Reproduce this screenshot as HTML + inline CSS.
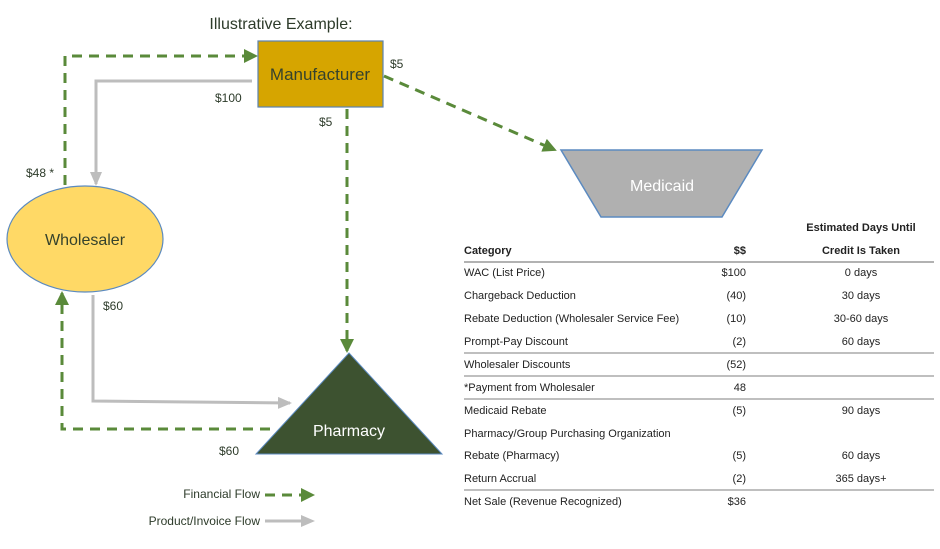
<!DOCTYPE html>
<html><head><meta charset="utf-8"><style>
html,body{margin:0;padding:0;background:#fff;}
svg{display:block;font-family:"Liberation Sans",sans-serif;}
</style></head><body>
<svg width="940" height="549" viewBox="0 0 940 549" xmlns="http://www.w3.org/2000/svg">
<defs>
<marker id="ga" markerWidth="14" markerHeight="14" refX="12" refY="7" orient="auto" markerUnits="userSpaceOnUse"><path d="M0,0 L14,7 L0,14 z" fill="#5a8a3a"/></marker>
<marker id="gr" markerWidth="14" markerHeight="14" refX="12" refY="7" orient="auto" markerUnits="userSpaceOnUse"><path d="M0,1 L14,7 L0,13 z" fill="#bdbdbd"/></marker>
</defs>
<text x="281" y="29" font-size="16" fill="#2d3b2a" text-anchor="middle">Illustrative Example:</text>
<polyline points="65,185 65,56 256,56" fill="none" stroke="#5a8a3a" stroke-width="3" stroke-dasharray="10,7" marker-end="url(#ga)"/>
<polyline points="252,81 96,81 96,184" fill="none" stroke="#bdbdbd" stroke-width="3" marker-end="url(#gr)"/>
<line x1="347" y1="109" x2="347" y2="351" stroke="#5a8a3a" stroke-width="3" stroke-dasharray="10,7" marker-end="url(#ga)"/>
<line x1="384" y1="76" x2="555" y2="150" stroke="#5a8a3a" stroke-width="3" stroke-dasharray="10,7" marker-end="url(#ga)"/>
<polyline points="93,295 93,401 290,403" fill="none" stroke="#bdbdbd" stroke-width="3" marker-end="url(#gr)"/>
<polyline points="270,429 62,429 62,293" fill="none" stroke="#5a8a3a" stroke-width="3" stroke-dasharray="10,7" marker-end="url(#ga)"/>
<rect x="258" y="41" width="125" height="66" fill="#d6a500" stroke="#5b82b0" stroke-width="1.2"/>
<text x="320" y="80" font-size="17" fill="#35422c" text-anchor="middle">Manufacturer</text>
<ellipse cx="85" cy="239" rx="78" ry="53" fill="#ffd966" stroke="#5b8ac0" stroke-width="1.2"/>
<text x="85" y="245" font-size="16" fill="#35422c" text-anchor="middle">Wholesaler</text>
<polygon points="561,150 762,150 722,217 601,217" fill="#b0b0b0" stroke="#5b8ac0" stroke-width="1.5"/>
<text x="662" y="191" font-size="16" fill="#fff" text-anchor="middle">Medicaid</text>
<polygon points="349,353 442,454 256,454" fill="#3d5230" stroke="#5b8ac0" stroke-width="1"/>
<text x="349" y="436" font-size="16" fill="#fff" text-anchor="middle">Pharmacy</text>
<g font-size="12" fill="#2d3b2a">
<text x="215" y="102">$100</text>
<text x="390" y="68">$5</text>
<text x="319" y="126">$5</text>
<text x="26" y="177">$48 *</text>
<text x="103" y="310">$60</text>
<text x="219" y="455">$60</text>
<text x="260" y="498" text-anchor="end">Financial Flow</text>
<text x="260" y="525" text-anchor="end">Product/Invoice Flow</text>
</g>
<line x1="265" y1="495" x2="302" y2="495" stroke="#5a8a3a" stroke-width="3" stroke-dasharray="10,7"/>
<path d="M301,488 L315,495 L301,502 z" fill="#5a8a3a"/>
<line x1="265" y1="521" x2="303" y2="521" stroke="#bdbdbd" stroke-width="3"/>
<path d="M301,515 L315,521 L301,527 z" fill="#bdbdbd"/>
<g font-size="11" fill="#222">
<g font-weight="bold">
<text x="861" y="231" text-anchor="middle">Estimated Days Until</text>
<text x="464" y="254">Category</text>
<text x="746" y="254" text-anchor="end">$$</text>
<text x="861" y="254" text-anchor="middle">Credit Is Taken</text>
</g>
<line x1="464" y1="262" x2="934" y2="262" stroke="#999" stroke-width="1.5"/>
<text x="464" y="276">WAC (List Price)</text><text x="746" y="276" text-anchor="end">$100</text><text x="861" y="276" text-anchor="middle">0 days</text>
<text x="464" y="299">Chargeback Deduction</text><text x="746" y="299" text-anchor="end">(40)</text><text x="861" y="299" text-anchor="middle">30 days</text>
<text x="464" y="322">Rebate Deduction (Wholesaler Service Fee)</text><text x="746" y="322" text-anchor="end">(10)</text><text x="861" y="322" text-anchor="middle">30-60 days</text>
<text x="464" y="345">Prompt-Pay Discount</text><text x="746" y="345" text-anchor="end">(2)</text><text x="861" y="345" text-anchor="middle">60 days</text>
<line x1="464" y1="353" x2="934" y2="353" stroke="#999" stroke-width="1.2"/>
<text x="464" y="368">Wholesaler Discounts</text><text x="746" y="368" text-anchor="end">(52)</text>
<line x1="464" y1="376" x2="934" y2="376" stroke="#999" stroke-width="1.2"/>
<text x="464" y="391">*Payment from Wholesaler</text><text x="746" y="391" text-anchor="end">48</text>
<line x1="464" y1="399" x2="934" y2="399" stroke="#999" stroke-width="1.2"/>
<text x="464" y="414">Medicaid Rebate</text><text x="746" y="414" text-anchor="end">(5)</text><text x="861" y="414" text-anchor="middle">90 days</text>
<text x="464" y="437">Pharmacy/Group Purchasing Organization</text>
<text x="464" y="459">Rebate (Pharmacy)</text><text x="746" y="459" text-anchor="end">(5)</text><text x="861" y="459" text-anchor="middle">60 days</text>
<text x="464" y="482">Return Accrual</text><text x="746" y="482" text-anchor="end">(2)</text><text x="861" y="482" text-anchor="middle">365 days+</text>
<line x1="464" y1="490" x2="934" y2="490" stroke="#999" stroke-width="1.2"/>
<text x="464" y="505">Net Sale (Revenue Recognized)</text><text x="746" y="505" text-anchor="end">$36</text>
</g>
</svg>
</body></html>
